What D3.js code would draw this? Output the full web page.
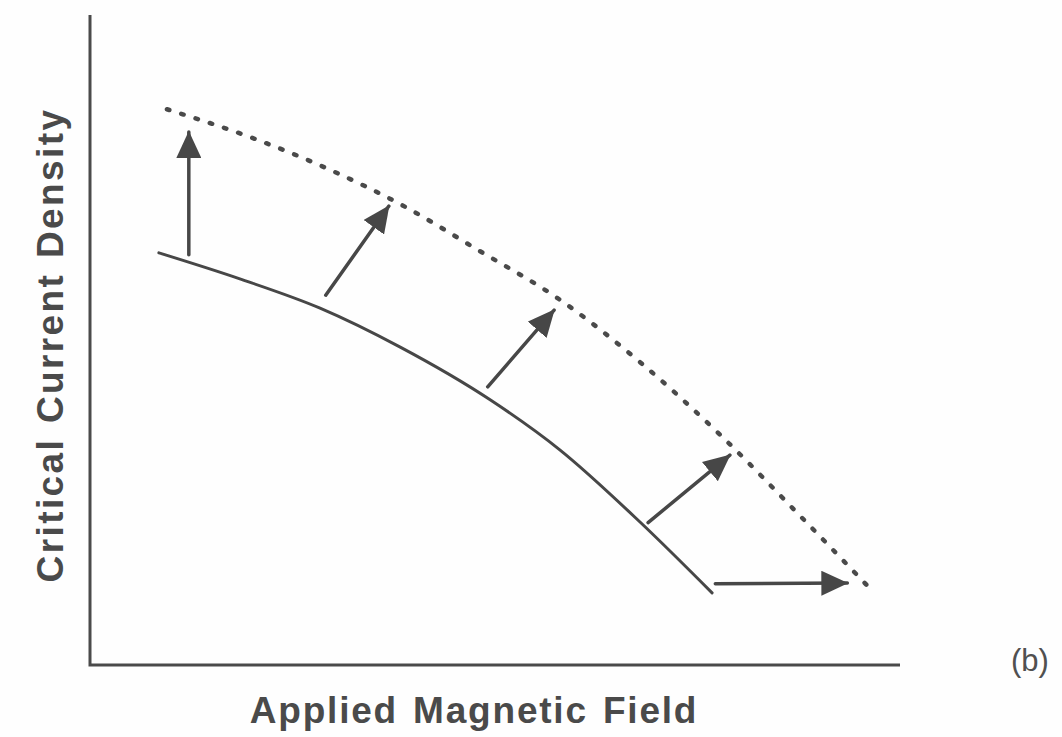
<!DOCTYPE html>
<html>
<head>
<meta charset="utf-8">
<script src="https://cdn.jsdelivr.net/npm/d3@7"></script>
<style>
  body { margin: 0; background: #fefefe; }
  .axis-line { stroke: #4a4a4a; stroke-width: 3; fill: none; }
  .label { font-family: "Liberation Sans", Arial, sans-serif; font-weight: bold; fill: #4a4a4a; }
</style>
</head>
<body>
<div id="chart"></div>
<script>
// solid curve (before), dotted curve (after), both in arbitrary units
var beforeCurve = [
  [0.85, 6.34], [1.85, 5.94], [2.84, 5.49], [3.83, 4.89],
  [4.94, 4.08], [5.80, 3.31], [6.79, 2.20], [7.68, 1.11]
];
var afterCurve = [
  [0.95, 8.55], [1.98, 8.12], [2.96, 7.62], [3.83, 7.09], [4.81, 6.37],
  [5.80, 5.62], [6.79, 4.66], [7.78, 3.54], [8.77, 2.29], [9.65, 1.15]
];
// arrows: [x0, y0, x1, y1]
var shifts = [
  [1.22, 6.31, 1.22, 8.20],
  [2.91, 5.69, 3.69, 7.06],
  [4.91, 4.28, 5.73, 5.46],
  [6.89, 2.19, 7.90, 3.23],
  [7.72, 1.25, 9.35, 1.26]
];
var xTitle = "Applied Magnetic Field";
var yTitle = "Critical Current Density";
var panelTag = "(b)";

var W = 1062, H = 737;

var x = d3.scaleLinear().domain([0, 10]).range([90, 900]);
var y = d3.scaleLinear().domain([0, 10]).range([665, 15]);

var svg = d3.select("#chart").append("svg")
  .attr("width", W)
  .attr("height", H);

var defs = svg.append("defs");
defs.append("marker")
  .attr("id", "head")
  .attr("markerUnits", "userSpaceOnUse")
  .attr("viewBox", "0 0 27 25")
  .attr("markerWidth", 27)
  .attr("markerHeight", 25)
  .attr("refX", 26)
  .attr("refY", 12.5)
  .attr("orient", "auto")
  .append("path")
  .attr("d", "M0,0 L27,12.5 L0,25 Z")
  .attr("fill", "#474747");

// axes (plain lines, no ticks)
svg.append("path")
  .attr("class", "axis-line")
  .attr("d", "M" + x(0) + "," + y(10) + "L" + x(0) + "," + y(0) + "L" + x(10) + "," + y(0));

var line = d3.line()
  .x(function (d) { return x(d[0]); })
  .y(function (d) { return y(d[1]); })
  .curve(d3.curveMonotoneX);

svg.append("path")
  .attr("d", line(beforeCurve))
  .attr("fill", "none")
  .attr("stroke", "#474747")
  .attr("stroke-width", 3)
  .attr("stroke-linecap", "round");

svg.append("path")
  .attr("d", line(afterCurve))
  .attr("fill", "none")
  .attr("stroke", "#4a4a4a")
  .attr("stroke-width", 4.5)
  .attr("stroke-linecap", "round")
  .attr("stroke-dasharray", "2.5,12.5");

svg.selectAll(".shift")
  .data(shifts)
  .enter().append("line")
  .attr("class", "shift")
  .attr("x1", function (d) { return x(d[0]); })
  .attr("y1", function (d) { return y(d[1]); })
  .attr("x2", function (d) { return x(d[2]); })
  .attr("y2", function (d) { return y(d[3]); })
  .attr("stroke", "#474747")
  .attr("stroke-width", 3.5)
  .attr("stroke-linecap", "round")
  .attr("marker-end", "url(#head)");

// titles
svg.append("text")
  .attr("class", "label")
  .attr("x", 474)
  .attr("y", 723)
  .attr("text-anchor", "middle")
  .style("font-size", "37px")
  .style("letter-spacing", "1.8px")
  .style("word-spacing", "3px")
  .text(xTitle);

svg.append("text")
  .attr("class", "label")
  .attr("transform", "translate(63,345) rotate(-90)")
  .attr("text-anchor", "middle")
  .style("font-size", "37px")
  .style("letter-spacing", "2.4px")
  .style("word-spacing", "2px")
  .text(yTitle);

svg.append("text")
  .attr("x", 1030)
  .attr("y", 671)
  .attr("text-anchor", "middle")
  .style("font-family", "'Liberation Sans', Arial, sans-serif")
  .style("font-size", "31px")
  .style("fill", "#505050")
  .text(panelTag);
</script>
</body>
</html>
